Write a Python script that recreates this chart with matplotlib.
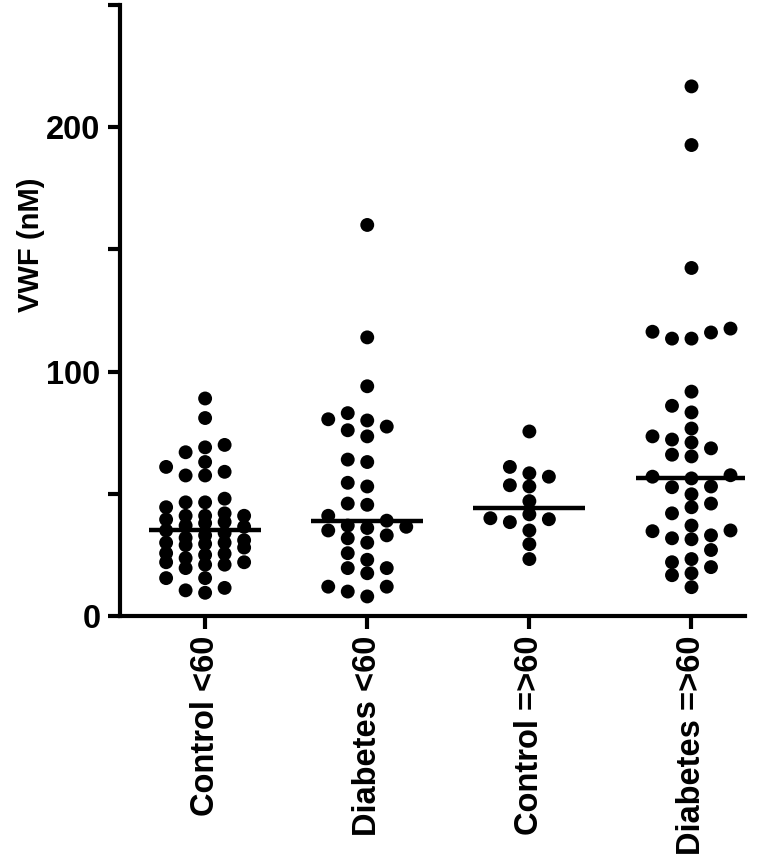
import numpy as np
import matplotlib
matplotlib.use("Agg")
import matplotlib.pyplot as plt
from matplotlib.ticker import MultipleLocator
from matplotlib.font_manager import FontProperties

# groups and VWF values (nM)
groups = ["Control <60", "Diabetes <60", "Control =>60", "Diabetes =>60"]

control_lt60 = [89, 81, 70, 69, 67, 63, 61, 59, 57.5, 57.5,
                48, 46.5, 46.5, 44.5, 42, 41, 41, 41, 39.5, 38.5, 38, 37,
                36.5, 35, 34, 33, 32, 31, 30, 30, 29.5, 29, 28, 25.7, 25.5,
                25, 23.7, 22, 22, 21, 21, 19.6, 15.5, 15.5, 11.5, 10.5, 9.5]
diabetes_lt60 = [160, 114, 94, 83, 80.5, 80, 77.5, 76, 73.5, 64, 63, 54.5,
                 53, 46, 45.5, 41, 39, 37, 36.5, 36, 35, 33, 31.8, 30, 25.7,
                 23, 19.6, 19.6, 17.5, 12, 12, 10, 8]
control_ge60 = [75.5, 61, 58.4, 57, 53.5, 53, 47, 41.6, 40, 39.6, 38.4, 35,
                29.4, 23.3]
diabetes_ge60 = [216.7, 192.7, 142.4, 117.6, 116.3, 116, 113.5, 113.5, 91.8,
                 86, 83.3, 76.7, 73.5, 72.2, 71, 68.6, 66, 65.3, 57.6, 57,
                 56.3, 53, 52.7, 49.8, 46, 44.5, 42, 37, 35, 34.7, 33, 31.8,
                 31.4, 27, 23.3, 22, 20, 17.5, 16.7, 11.8]

data = [control_lt60, diabetes_lt60, control_ge60, diabetes_ge60]

W, H = 769, 857
fig = plt.figure(figsize=(W / 100, H / 100), dpi=100)
ax = fig.add_axes([120 / W, 1 - 616 / H, 625 / W, 611 / H])

xmin, xmax = 0.475, 4.33
ymax = 250
px_x = 625 / (xmax - xmin)   # pixels per category
px_y = 611 / ymax            # pixels per nM


def swarm(vals, step=19.5, d=12.5):
    # column scatter: 5 fixed columns, nearest free one to the centre,
    # otherwise the column with the most room (dots may overlap then)
    vals = np.asarray(vals, float)
    order = np.argsort(vals)
    cols = sorted(range(-2, 3), key=lambda k: (abs(k), k))
    placed = {k: [] for k in cols}
    off = np.zeros(len(vals))
    for i in order:
        y = vals[i] * px_y
        gap = {k: min([abs(y - py) for py in placed[k]] + [1e9]) for k in cols}
        free = [k for k in cols if gap[k] >= d]
        k = free[0] if free else max(cols, key=lambda c: gap[c])
        placed[k].append(y)
        off[i] = k * step / px_x
    return off


for i, vals in enumerate(data):
    pos = i + 1
    ax.scatter(pos + swarm(vals), vals, s=100, color="black", edgecolors="none",
               zorder=3, clip_on=False)
    ax.hlines(np.median(vals), pos - 0.345, pos + 0.345, color="black",
              lw=3.2, zorder=4)

ax.set_xlim(xmin, xmax)
ax.set_ylim(0, ymax)
for s in ["top", "right"]:
    ax.spines[s].set_visible(False)
for s in ["left", "bottom"]:
    ax.spines[s].set_linewidth(3)

ax.set_yticks([0, 100, 200])
ax.yaxis.set_minor_locator(MultipleLocator(50))
ax.set_xticks(range(1, 5))
ax.set_xticklabels(groups, rotation=90)
ax.tick_params(which="both", direction="out", length=9, width=3, pad=5)

tick_font = FontProperties(family=["Liberation Sans", "DejaVu Sans"],
                           weight="bold", size=23.5)
for lab in ax.get_xticklabels() + ax.get_yticklabels():
    lab.set_fontproperties(tick_font)

ax.set_ylabel("VWF (nM)", family=["Liberation Sans", "DejaVu Sans"],
              weight="bold", size=21)
ax.yaxis.set_label_coords(-0.12, 0.607)

fig.savefig("out.png", dpi=100)
